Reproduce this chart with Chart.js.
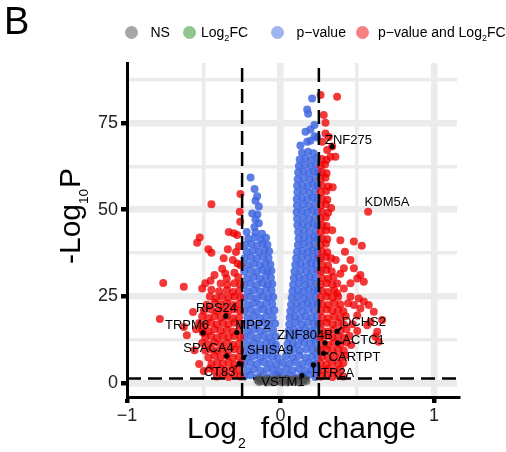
<!DOCTYPE html>
<html>
<head>
<meta charset="utf-8">
<title>Volcano plot</title>
<script src="https://cdn.jsdelivr.net/npm/chart.js@4.4.0/dist/chart.umd.min.js"></script>
<style>
  body { margin: 0; background: #fff; }
  #wrap { position: relative; width: 506px; height: 452px; font-family: "Liberation Sans", Arial, sans-serif; color: #000; }
  #volcano { position: absolute; left: 0; top: 0; }
  .panel { position: absolute; left: 4px; top: 2px; font-size: 38px; line-height: 38px; }
  .leg-dot { position: absolute; top: 25.8px; width: 13px; height: 13px; border-radius: 50%; }
  .leg-text { position: absolute; top: 25px; font-size: 14px; line-height: 14px; white-space: nowrap; }
  .lsub { font-size: 9px; position: relative; top: 4px; }
  .ytitle { position: absolute; left: 54.6px; top: 264px; font-size: 30px; line-height: 30px; white-space: nowrap; transform-origin: 0 0; transform: rotate(-90deg); }
  .ytitle .sub { font-size: 13.5px; position: relative; top: 8px; margin-right: 1px; }
  .xtitle { position: absolute; left: 187px; top: 413px; font-size: 30px; line-height: 30px; white-space: nowrap; }
  .xtitle .sub { font-size: 14px; position: relative; top: 9.5px; margin-left: 1px; }
  .xtitle .rest { margin-left: 15px; }
</style>
</head>
<body>
<div id="wrap">
  <canvas id="volcano" width="506" height="452"></canvas>
  <div class="panel">B</div>

  <div class="leg-dot" style="left:124.5px;background:rgba(77,77,77,0.5)"></div>
  <div class="leg-text" style="left:150.5px">NS</div>
  <div class="leg-dot" style="left:182.5px;background:rgba(34,139,34,0.5)"></div>
  <div class="leg-text" style="left:201px">Log<span class="lsub">2</span>FC</div>
  <div class="leg-dot" style="left:271px;background:rgba(65,105,225,0.5)"></div>
  <div class="leg-text" style="left:296.5px">p&minus;value</div>
  <div class="leg-dot" style="left:356px;background:rgba(238,0,0,0.5)"></div>
  <div class="leg-text" style="left:378px">p&minus;value and Log<span class="lsub">2</span>FC</div>

  <div class="ytitle">-Log<span class="sub">10</span>P</div>
  <div class="xtitle">Log<span class="sub">2</span><span class="rest">fold change</span></div>
</div>

<script>
// ---- axes ----
const xRange = [-1, 1.15];
const yRange = [-4, 92.3];
const xTicks = [-1, -0.5, 0, 0.5, 1];
const xTickLabels = ["\u22121", "", "0", "", "1"];
const xMajor = [-1, 0, 1];
const yTicks = [0, 12.5, 25, 37.5, 50, 62.5, 75, 87.5];
const yTickLabels = ["0", "", "25", "", "50", "", "75", ""];
const yMajor = [0, 25, 50, 75];

// cut-offs (log2FC and -log10(0.05))
const fcCutoff = 0.25;
const pCutoff = 1.3;

// ---- points [log2FC, -log10P] ----
// NS (grey)
const nsPoints = [
  [-0.15,0.8],[-0.14,0.3],[-0.14,1.2],[-0.125,0.5],[-0.12,1.0],[-0.095,0.7],[-0.09,0.2],[-0.085,1.25],
  [-0.065,1.0],[-0.06,0.6],[-0.055,0.2],[-0.035,0.4],[-0.03,0.9],[-0.02,1.3],[-0.005,0.6],[0.0,1.1],
  [0.005,0.2],[0.01,0.7],[0.025,0.4],[0.03,0.8],[0.04,1.25],[0.045,0.2],[0.055,1.0],[0.06,0.5],
  [0.07,0.75],[0.085,0.7],[0.09,0.3],[0.095,1.2],[0.115,1.0],[0.12,0.6],[0.125,0.2],[0.145,0.8],
  [0.15,0.4],[0.165,1.1],[0.17,0.6]
];

// Log2FC only (green) - none visible
const log2fcPoints = [];

// p-value only (blue)
const pValuePoints = [
  [-0.236,1.9],[-0.195,2.3],[-0.152,1.7],[-0.11,2.2],[-0.067,1.8],[-0.027,2.4],[0.016,1.9],[0.058,2.2],[0.099,1.7],[0.142,2.1],[0.184,2.4],[0.227,1.8],
  [-0.215,3.7],[-0.174,4.0],[-0.131,3.6],[-0.088,4.1],[-0.047,3.8],[-0.006,3.5],[0.037,4.0],[0.079,3.7],[0.121,4.1],[0.164,3.6],[0.205,3.9],[0.241,3.6],
  [-0.238,5.6],[-0.196,5.9],[-0.153,5.5],[-0.111,6.0],[-0.069,5.7],[-0.026,5.4],[0.014,5.8],[0.057,5.6],[0.1,6.0],[0.143,5.5],[0.185,5.8],[0.226,5.6],
  [-0.216,7.5],[-0.174,7.8],[-0.132,7.4],[-0.09,7.9],[-0.049,7.6],[-0.018,7.3],[0.034,7.7],[0.078,7.5],[0.12,7.9],[0.162,7.4],[0.204,7.7],[0.24,7.5],
  // left arm
  [-0.237,9.4],[-0.195,9.7],[-0.153,9.3],[-0.111,9.8],[-0.07,9.5],[-0.029,9.6],
  [-0.215,11.3],[-0.174,11.6],[-0.132,11.2],[-0.091,11.7],[-0.055,11.5],[-0.03,11.1],
  [-0.236,13.2],[-0.194,13.5],[-0.152,13.1],[-0.111,13.6],[-0.071,13.3],[-0.031,13.4],
  [-0.214,15.1],[-0.173,15.4],[-0.131,15.0],[-0.089,15.5],[-0.047,15.2],
  [-0.237,17.0],[-0.196,17.3],[-0.154,16.9],[-0.113,17.4],[-0.074,17.1],[-0.035,17.2],
  [-0.216,18.9],[-0.175,19.2],[-0.133,18.8],[-0.092,19.3],[-0.05,19.0],
  [-0.235,20.8],[-0.194,21.1],[-0.153,20.7],[-0.112,21.2],[-0.076,20.9],[-0.04,21.0],
  [-0.214,22.7],[-0.173,23.0],[-0.132,22.6],[-0.091,23.1],[-0.053,22.8],
  [-0.236,24.6],[-0.195,24.9],[-0.154,24.5],[-0.114,25.0],[-0.079,24.7],[-0.047,24.8],
  [-0.215,26.5],[-0.174,26.8],[-0.133,26.4],[-0.094,26.9],[-0.058,26.6],
  [-0.237,28.4],[-0.196,28.7],[-0.155,28.3],[-0.115,28.8],[-0.083,28.5],[-0.053,28.6],
  [-0.216,30.3],[-0.175,30.6],[-0.134,30.2],[-0.096,30.7],[-0.062,30.4],
  [-0.236,32.2],[-0.195,32.5],[-0.154,32.1],[-0.116,32.6],[-0.085,32.3],[-0.059,32.4],
  [-0.215,34.1],[-0.174,34.4],[-0.134,34.0],[-0.099,34.5],[-0.066,34.2],
  [-0.234,36.0],[-0.193,36.3],[-0.153,35.9],[-0.114,36.4],[-0.078,36.1],
  [-0.22,37.9],[-0.18,38.2],[-0.14,37.8],[-0.103,38.3],[-0.074,38.0],
  [-0.231,39.8],[-0.19,40.1],[-0.15,39.7],[-0.114,40.2],[-0.085,39.9],
  [-0.21,41.6],[-0.168,42.0],[-0.128,41.5],[-0.094,41.9],
  [-0.22,43.6],[-0.163,43.4],[-0.12,43.1],[-0.17,45.0],[-0.141,46.1],[-0.163,47.2],[-0.184,48.9],
  [-0.15,48.6],[-0.141,50.9],[-0.163,52.6],[-0.152,53.9],[-0.169,56.0],[-0.195,59.3],
  // right arm
  [0.042,9.4],[0.084,9.7],[0.126,9.3],[0.168,9.8],[0.21,9.5],[0.242,9.6],
  [0.046,11.3],[0.081,11.6],[0.116,11.2],[0.153,11.7],[0.191,11.4],[0.229,11.5],
  [0.05,13.2],[0.091,13.5],[0.132,13.1],[0.172,13.6],[0.211,13.3],[0.242,13.4],
  [0.053,15.1],[0.088,15.4],[0.124,15.0],[0.161,15.5],[0.199,15.2],[0.235,15.3],
  [0.057,17.0],[0.097,17.3],[0.137,16.9],[0.177,17.4],[0.216,17.1],[0.243,17.2],
  [0.06,18.9],[0.094,19.2],[0.129,18.8],[0.166,19.3],[0.204,19.0],[0.238,19.1],
  [0.064,20.8],[0.103,21.1],[0.142,20.7],[0.181,21.2],[0.219,20.9],
  [0.069,22.7],[0.105,23.0],[0.14,22.6],[0.176,23.1],[0.211,22.8],[0.242,22.9],
  [0.073,24.6],[0.112,24.9],[0.151,24.5],[0.19,25.0],[0.228,24.7],
  [0.078,26.5],[0.114,26.8],[0.149,26.4],[0.185,26.9],[0.22,26.6],[0.243,26.7],
  [0.082,28.4],[0.12,28.7],[0.158,28.3],[0.196,28.8],[0.233,28.5],
  [0.087,30.3],[0.122,30.6],[0.157,30.2],[0.192,30.7],[0.226,30.4],
  [0.091,32.2],[0.13,32.5],[0.169,32.1],[0.207,32.6],[0.241,32.3],
  [0.096,34.1],[0.131,34.4],[0.166,34.0],[0.2,34.5],[0.232,34.2],
  [0.102,36.0],[0.14,36.3],[0.178,35.9],[0.215,36.4],[0.243,36.1],
  [0.108,37.9],[0.143,38.2],[0.178,37.8],[0.212,38.3],[0.24,38.0],
  [0.113,39.8],[0.15,40.1],[0.187,39.7],[0.223,40.2],
  [0.118,41.7],[0.153,42.0],[0.188,41.6],[0.22,42.1],[0.244,41.8],
  [0.115,43.6],[0.152,43.9],[0.19,43.5],[0.228,44.0],
  [0.11,45.5],[0.145,45.8],[0.18,45.4],[0.213,45.9],[0.242,45.6],
  [0.108,47.4],[0.147,47.7],[0.186,47.3],[0.224,47.8],
  [0.105,49.3],[0.14,49.6],[0.175,49.2],[0.21,49.7],[0.241,49.4],
  [0.107,51.2],[0.146,51.5],[0.185,51.1],[0.223,51.6],
  [0.106,53.1],[0.141,53.4],[0.176,53.0],[0.211,53.5],[0.24,53.2],
  [0.11,55.0],[0.149,55.3],[0.188,54.9],[0.226,55.4],
  [0.108,56.9],[0.143,57.2],[0.178,56.8],[0.213,57.3],[0.242,57.0],
  [0.112,58.8],[0.151,59.1],[0.19,58.7],[0.228,59.2],
  [0.115,60.7],[0.15,61.0],[0.185,60.6],[0.218,61.1],[0.243,60.8],
  [0.12,62.6],[0.158,62.9],[0.196,62.5],[0.232,63.0],
  [0.125,64.5],[0.163,64.8],[0.2,64.4],[0.238,64.9],
  [0.14,66.4],[0.18,66.7],[0.215,66.3],
  [0.13,68.5],[0.174,69.6],[0.195,69.9],[0.24,70.8],[0.222,71.2],[0.163,72.5],[0.195,73.1],
  [0.221,74.4],[0.18,77.7],[0.174,78.9],[0.206,82.1],[0.215,5.3],[0.14,2.2]
];

// p-value and Log2FC (red)
const bothPoints = [
  // right side
  [0.262,1.9],[0.3,2.3],[0.338,1.8],[0.376,2.2],[0.41,1.9],
  [0.27,3.8],[0.31,4.1],[0.35,3.7],[0.39,4.0],
  [0.262,5.7],[0.3,5.4],[0.338,5.9],[0.376,5.6],[0.41,5.8],
  [0.27,7.6],[0.31,7.3],[0.35,7.8],[0.39,7.5],[0.42,7.9],
  [0.262,9.5],[0.3,9.8],[0.338,9.4],[0.376,9.7],[0.413,9.3],
  [0.27,11.4],[0.31,11.1],[0.35,11.6],[0.39,11.3],[0.43,11.7],
  [0.262,13.3],[0.3,13.6],[0.338,13.2],[0.376,13.5],[0.414,13.1],[0.45,13.6],
  [0.27,15.2],[0.31,14.9],[0.35,15.4],[0.39,15.1],[0.43,15.5],
  [0.262,17.1],[0.3,17.4],[0.338,17.0],[0.376,17.3],[0.414,16.9],
  [0.27,19.0],[0.31,18.7],[0.35,19.2],[0.39,18.9],[0.425,19.3],
  [0.262,20.9],[0.3,21.2],[0.338,20.8],[0.376,21.1],[0.41,20.7],
  [0.27,22.8],[0.31,22.5],[0.35,23.0],[0.39,22.7],
  [0.262,24.7],[0.3,25.0],[0.338,24.6],[0.376,24.9],
  [0.27,26.6],[0.31,26.3],[0.35,26.8],
  [0.262,28.5],[0.3,28.8],[0.338,28.4],[0.37,28.7],
  [0.27,30.4],[0.31,30.1],[0.345,30.6],
  [0.262,32.3],[0.298,32.6],[0.334,32.2],
  [0.27,34.2],[0.31,33.9],
  [0.262,36.1],[0.298,36.4],[0.33,36.0],
  [0.27,38.0],[0.305,37.7],
  [0.262,39.9],[0.296,40.2],
  [0.27,41.8],[0.305,41.5],
  [0.262,43.7],[0.296,44.0],[0.337,44.1],
  [0.27,45.6],[0.3,45.3],
  [0.262,47.5],[0.296,47.8],
  [0.27,49.4],[0.31,49.1],[0.33,50.5],
  [0.262,51.3],[0.296,51.6],
  [0.27,53.2],[0.305,52.9],
  [0.262,55.1],[0.298,55.4],[0.34,56.5],
  [0.27,57.0],[0.31,56.7],
  [0.262,58.9],[0.293,59.2],
  [0.27,60.8],[0.3,60.5],
  [0.262,62.7],[0.29,63.0],
  [0.268,64.6],[0.3,64.3],
  [0.326,65.3],[0.358,65.3],[0.304,67.2],[0.337,68.2],[0.272,69.6],[0.315,71.0],[0.293,72.0],
  [0.293,75.1],[0.282,77.3],[0.261,83.1],[0.369,82.6],
  [0.39,41.2],[0.478,40.8],[0.53,39.6],[0.42,37.9],[0.36,35.5],[0.456,35.5],[0.413,33.1],[0.478,33.1],
  [0.39,31.5],[0.521,31.2],[0.543,29.2],[0.5,30.2],[0.456,28.8],[0.413,27.3],[0.369,25.9],[0.456,24.9],
  [0.51,24.4],[0.543,23.5],[0.478,22.5],[0.44,23.0],[0.521,21.5],[0.575,22.5],[0.608,20.6],[0.5,19.5],
  [0.662,18.2],[0.586,17.7],[0.47,17.0],[0.565,16.7],[0.5,15.0],[0.63,14.8],[0.619,13.4],[0.64,11.9],
  [0.46,11.0],[0.571,49.4],
  // left side
  [-0.262,1.9],[-0.3,2.3],[-0.338,1.8],[-0.376,2.2],[-0.414,1.9],
  [-0.27,3.8],[-0.31,4.1],[-0.35,3.7],[-0.39,4.0],[-0.43,3.6],[-0.46,4.2],
  [-0.262,5.7],[-0.3,5.4],[-0.338,5.9],[-0.376,5.6],[-0.414,5.8],[-0.45,5.5],
  [-0.27,7.6],[-0.31,7.3],[-0.35,7.8],[-0.39,7.5],[-0.43,7.9],[-0.47,7.4],
  [-0.262,9.5],[-0.3,9.8],[-0.338,9.4],[-0.376,9.7],[-0.414,9.3],[-0.452,9.8],[-0.49,9.4],
  [-0.27,11.4],[-0.31,11.1],[-0.35,11.6],[-0.39,11.3],[-0.43,11.7],[-0.47,11.2],[-0.51,11.6],
  [-0.262,13.3],[-0.3,13.6],[-0.338,13.2],[-0.376,13.5],[-0.414,13.1],[-0.452,13.6],[-0.49,13.2],
  [-0.27,15.2],[-0.31,14.9],[-0.35,15.4],[-0.39,15.1],[-0.43,15.5],[-0.47,15.0],[-0.51,15.4],
  [-0.262,17.1],[-0.3,17.4],[-0.338,17.0],[-0.376,17.3],[-0.414,16.9],[-0.452,17.4],[-0.49,17.0],[-0.53,17.3],
  [-0.27,19.0],[-0.31,18.7],[-0.35,19.2],[-0.39,18.9],[-0.43,19.3],[-0.47,18.8],[-0.51,19.2],
  [-0.262,20.9],[-0.3,21.2],[-0.338,20.8],[-0.376,21.1],[-0.414,20.7],[-0.452,21.2],[-0.5,20.8],
  [-0.27,22.8],[-0.31,22.5],[-0.35,23.0],[-0.39,22.7],[-0.43,23.1],[-0.48,22.6],
  [-0.262,24.7],[-0.3,25.0],[-0.338,24.6],[-0.38,24.9],[-0.42,24.5],[-0.46,25.0],
  [-0.27,26.6],[-0.31,26.3],[-0.35,26.8],[-0.4,26.5],[-0.45,26.9],
  [-0.262,28.5],[-0.3,28.8],[-0.345,28.4],[-0.39,28.7],
  [-0.261,54.5],[-0.45,51.6],[-0.265,49.4],[-0.262,46.5],[-0.337,43.6],[-0.304,43.2],[-0.282,42.7],
  [-0.526,42.0],[-0.543,40.5],[-0.27,39.5],[-0.47,38.6],[-0.45,37.6],[-0.343,38.6],[-0.29,37.8],
  [-0.37,36.0],[-0.31,35.5],[-0.28,34.5],[-0.26,34.0],[-0.38,33.0],[-0.3,31.8],[-0.36,31.6],
  [-0.43,31.2],[-0.275,30.5],[-0.35,30.2],[-0.456,29.5],[-0.49,28.8],[-0.764,28.9],[-0.63,27.8],
  [-0.51,27.3],[-0.57,20.5],[-0.786,18.5],[-0.63,16.2],[-0.55,15.5],[-0.61,13.8],[-0.505,14.5],
  [-0.56,9.5],[-0.53,5.5],[-0.5,3.5]
];

// labelled genes: point, label centre, and whether a connector mark is drawn
const labelledGenes = [
  { gene: "ZNF275",  x: 0.337,  y: 68.2, lx: 0.443,  ly: 70.1, dot: true },
  { gene: "KDM5A",   x: 0.571,  y: 49.4, lx: 0.694,  ly: 52.2, dot: false },
  { gene: "RPS24",   x: -0.356, y: 19.3, lx: -0.417, ly: 21.6, dot: true },
  { gene: "TRPM6",   x: -0.505, y: 14.5, lx: -0.609, ly: 16.7, dot: true },
  { gene: "MPP2",    x: -0.285, y: 14.6, lx: -0.179, ly: 16.7, dot: true },
  { gene: "ZNF804B", x: 0.29,   y: 11.6, lx: 0.16,   ly: 13.8, dot: true },
  { gene: "DCHS2",   x: 0.368,  y: 14.9, lx: 0.544,  ly: 17.6, dot: true },
  { gene: "SPACA4",  x: -0.35,  y: 7.8,  lx: -0.469, ly: 10.1, dot: true },
  { gene: "SHISA9",  x: -0.241, y: 7.4,  lx: -0.068, ly: 9.5,  dot: true },
  { gene: "ACTC1",   x: 0.372,  y: 11.6, lx: 0.541,  ly: 12.4, dot: true },
  { gene: "CARTPT",  x: 0.28,   y: 8.6,  lx: 0.482,  ly: 7.5,  dot: true },
  { gene: "CT83",    x: -0.268, y: 5.6,  lx: -0.397, ly: 3.2,  dot: true },
  { gene: "HTR2A",   x: 0.215,  y: 5.3,  lx: 0.342,  ly: 2.9,  dot: true },
  { gene: "VSTM1",   x: 0.14,   y: 2.2,  lx: 0.016,  ly: 0.3,  dot: true }
];

// gene names with short connectors
const geneLabels = {
  id: "geneLabels",
  afterDatasetsDraw(chart) {
    const { ctx, scales } = chart;
    ctx.save();
    ctx.font = '13px "Liberation Sans", Arial, sans-serif';
    ctx.textAlign = "center";
    ctx.textBaseline = "middle";
    ctx.fillStyle = "#000";
    ctx.strokeStyle = "#000";
    ctx.lineWidth = 2;
    labelledGenes.forEach((g) => {
      const px = scales.x.getPixelForValue(g.x);
      const py = scales.y.getPixelForValue(g.y);
      const lx = scales.x.getPixelForValue(g.lx);
      const ly = scales.y.getPixelForValue(g.ly);
      const halfW = ctx.measureText(g.gene).width / 2;
      if (g.dot) {
        const qx = Math.min(Math.max(px, lx - halfW), lx + halfW);
        const qy = Math.min(Math.max(py, ly - 5), ly + 5);
        ctx.beginPath();
        ctx.moveTo(px, py);
        ctx.lineTo(qx, qy);
        ctx.stroke();
        ctx.beginPath();
        ctx.arc(px, py, 2.6, 0, Math.PI * 2);
        ctx.fill();
      }
      ctx.fillText(g.gene, lx, ly);
    });
    ctx.restore();
  }
};

Chart.defaults.font.family = '"Liberation Sans", Arial, sans-serif';

const pointStyle = (color, order) => ({
  backgroundColor: color,
  borderWidth: 0,
  pointRadius: 4,
  order: order
});

const cutoffLine = (data) => ({
  data: data,
  showLine: true,
  borderColor: "#000",
  borderWidth: 2.5,
  borderDash: [14, 7],
  pointRadius: 0,
  order: 3
});

const ctx = document.getElementById("volcano").getContext("2d");
new Chart(ctx, {
  type: "scatter",
  data: {
    datasets: [
      { label: "p-value", data: pValuePoints, ...pointStyle("rgba(65,105,225,0.85)", 6) },
      { label: "p-value and Log2FC", data: bothPoints, ...pointStyle("rgba(238,0,0,0.78)", 5) },
      { label: "Log2FC", data: log2fcPoints, ...pointStyle("rgba(34,139,34,0.5)", 5) },
      cutoffLine([[-fcCutoff, yRange[0]], [-fcCutoff, yRange[1]]]),
      cutoffLine([[fcCutoff, yRange[0]], [fcCutoff, yRange[1]]]),
      cutoffLine([[xRange[0], pCutoff], [xRange[1], pCutoff]]),
      { label: "NS", data: nsPoints, ...pointStyle("rgba(77,77,77,0.62)", 2) }
    ]
  },
  options: {
    responsive: false,
    animation: false,
    events: [],
    layout: { padding: { top: 63, right: 49, left: 0, bottom: 0 } },
    plugins: { legend: { display: false }, tooltip: { enabled: false } },
    scales: {
      x: {
        type: "linear",
        min: xRange[0],
        max: xRange[1],
        afterBuildTicks: (s) => { s.ticks = xTicks.map((v) => ({ value: v })); },
        afterFit: (s) => { s.height = 55; },
        border: { display: true, color: "#000", width: 3 },
        grid: {
          color: (c) => (c.tick && c.tick.value === xRange[0] ? "rgba(0,0,0,0)" : "#ebebeb"),
          lineWidth: (c) => (c.tick && xMajor.includes(c.tick.value) ? 6.5 : 3.5),
          tickColor: (c) => (c.tick && xMajor.includes(c.tick.value) ? "#000" : "rgba(0,0,0,0)"),
          tickLength: 6,
          tickWidth: 4.5
        },
        ticks: {
          autoSkip: false,
          maxRotation: 0,
          padding: 2,
          color: "#222",
          font: { size: 18 },
          callback: (v, i) => xTickLabels[i]
        }
      },
      y: {
        type: "linear",
        min: yRange[0],
        max: yRange[1],
        afterBuildTicks: (s) => { s.ticks = yTicks.map((v) => ({ value: v })); },
        afterFit: (s) => { s.width = 127; },
        border: { display: true, color: "#000", width: 3 },
        grid: {
          color: "#ebebeb",
          lineWidth: (c) => (c.tick && yMajor.includes(c.tick.value) ? 6.5 : 3.5),
          tickColor: (c) => (c.tick && yMajor.includes(c.tick.value) ? "#000" : "rgba(0,0,0,0)"),
          tickLength: 6,
          tickWidth: 4.5
        },
        ticks: {
          autoSkip: false,
          padding: 3,
          color: "#222",
          font: { size: 18 },
          callback: (v, i) => yTickLabels[i]
        }
      }
    }
  },
  plugins: [geneLabels]
});
</script>
</body>
</html>
